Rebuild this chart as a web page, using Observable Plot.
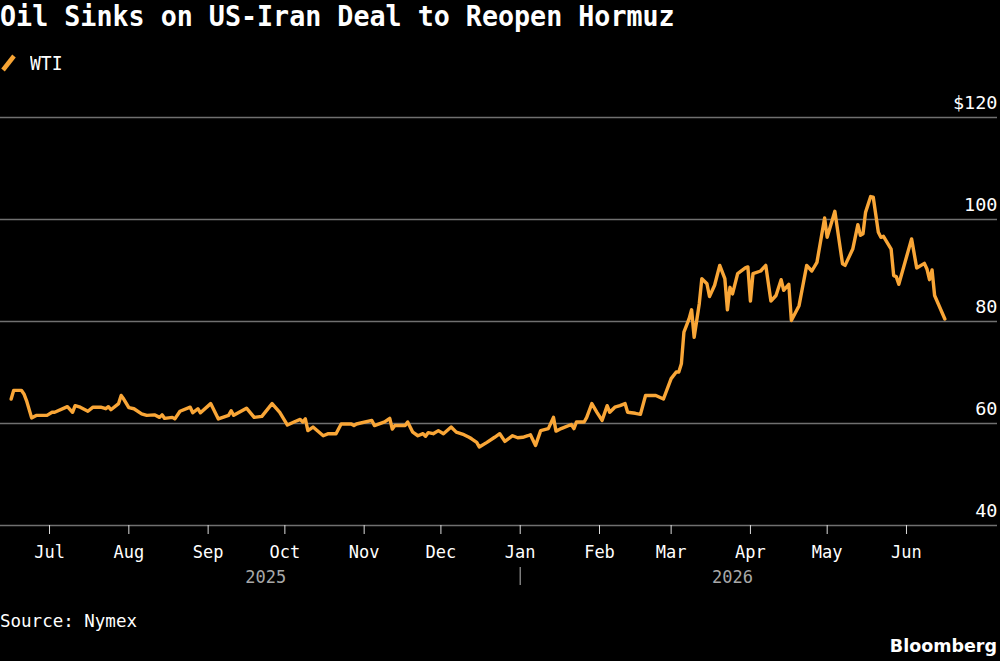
<!DOCTYPE html>
<html>
<head>
<meta charset="utf-8">
<script src="https://cdn.jsdelivr.net/npm/d3@7"></script>
<script src="https://cdn.jsdelivr.net/npm/@observablehq/plot@0.6"></script>
<style>
  html, body { margin: 0; padding: 0; background: #000; }
  #page { position: relative; width: 1000px; height: 661px; background: #000; overflow: hidden;
          font-family: "DejaVu Sans Mono", monospace; color: #fff; }
  #title { position: absolute; left: 0; top: 2px; font-size: 29px; line-height: 29px;
           font-weight: bold; white-space: nowrap; transform: scaleX(0.92); transform-origin: 0 0; }
  #legend { position: absolute; left: 0; top: 52px; height: 22px; }
  #legend svg { position: absolute; left: 0; top: 0; }
  #legend span { position: absolute; left: 30px; top: 1px; font-size: 20px; line-height: 20px; white-space: nowrap;
                 transform: scaleX(0.9); transform-origin: 0 0; }
  #chart { position: absolute; left: 0; top: 88px; }
  #source { position: absolute; left: 0; top: 613px; font-size: 17.5px; line-height: 17.5px; white-space: nowrap; }
  #brand { position: absolute; right: 3px; top: 638px; font-family: "DejaVu Sans", sans-serif;
           font-weight: bold; font-size: 17.5px; line-height: 17.5px; white-space: nowrap; }
</style>
</head>
<body>
<div id="page">
  <div id="title">Oil Sinks on US-Iran Deal to Reopen Hormuz</div>
  <div id="legend">
    <svg width="20" height="22"><line x1="3" y1="18" x2="14" y2="4" stroke="#f7a434" stroke-width="4.5"/></svg>
    <span>WTI</span>
  </div>
  <div id="chart"></div>
  <div id="source">Source: Nymex</div>
  <div id="brand">Bloomberg</div>
</div>
<script>
// WTI front-month settlement, $/bbl
const dates = [
  "2025-06-16","2025-06-17","2025-06-20","2025-06-21","2025-06-22","2025-06-24","2025-06-26","2025-06-30",
  "2025-07-02","2025-07-03","2025-07-08","2025-07-10","2025-07-11","2025-07-13","2025-07-16","2025-07-18",
  "2025-07-21","2025-07-23","2025-07-24","2025-07-25","2025-07-28","2025-07-29","2025-07-30","2025-08-01",
  "2025-08-03","2025-08-06","2025-08-08","2025-08-11","2025-08-13","2025-08-14","2025-08-15","2025-08-18",
  "2025-08-19","2025-08-21","2025-08-25","2025-08-26","2025-08-28","2025-08-29","2025-09-02","2025-09-05",
  "2025-09-09","2025-09-10","2025-09-11","2025-09-16","2025-09-19","2025-09-22","2025-09-26","2025-09-29",
  "2025-10-02","2025-10-05","2025-10-07","2025-10-08","2025-10-09","2025-10-10","2025-10-12","2025-10-16",
  "2025-10-18","2025-10-21","2025-10-23","2025-10-27","2025-10-28","2025-10-29","2025-11-04","2025-11-05",
  "2025-11-09","2025-11-11","2025-11-12","2025-11-13","2025-11-17","2025-11-18","2025-11-20","2025-11-22",
  "2025-11-24","2025-11-25","2025-11-26","2025-11-28","2025-11-30","2025-12-02","2025-12-05","2025-12-07",
  "2025-12-10","2025-12-12","2025-12-13","2025-12-15","2025-12-16","2025-12-19","2025-12-22","2025-12-24",
  "2025-12-26","2025-12-29","2025-12-31","2026-01-02","2026-01-04","2026-01-05","2026-01-07","2026-01-09",
  "2026-01-12","2026-01-14","2026-01-15","2026-01-17","2026-01-21","2026-01-22","2026-01-23","2026-01-26",
  "2026-01-27","2026-01-29","2026-01-31","2026-02-02","2026-02-04","2026-02-05","2026-02-07","2026-02-09",
  "2026-02-11","2026-02-12","2026-02-15","2026-02-17","2026-02-19","2026-02-23","2026-02-26","2026-03-01",
  "2026-03-03","2026-03-04","2026-03-05","2026-03-06","2026-03-08","2026-03-09","2026-03-10","2026-03-12",
  "2026-03-13","2026-03-15","2026-03-16","2026-03-18","2026-03-20","2026-03-22","2026-03-23","2026-03-24",
  "2026-03-25","2026-03-27","2026-03-30","2026-03-31","2026-04-01","2026-04-02","2026-04-05","2026-04-07",
  "2026-04-09","2026-04-11","2026-04-13","2026-04-14","2026-04-16","2026-04-17","2026-04-20","2026-04-23",
  "2026-04-25","2026-04-27","2026-04-30","2026-05-01","2026-05-04","2026-05-07","2026-05-08","2026-05-11",
  "2026-05-13","2026-05-14","2026-05-15","2026-05-16","2026-05-18","2026-05-19","2026-05-21","2026-05-22",
  "2026-05-23","2026-05-26","2026-05-27","2026-05-28","2026-05-29","2026-06-03","2026-06-05","2026-06-08",
  "2026-06-09","2026-06-10","2026-06-11","2026-06-12","2026-06-16"
];
const wti = [
  64.8,66.5,66.5,65.8,64.5,61.1,61.6,61.6,
  62.2,62.2,63.3,62.2,63.5,63.2,62.4,63.2,
  63.2,62.9,63.3,62.7,63.9,65.5,64.8,63.1,
  62.9,61.9,61.6,61.7,61.2,61.7,61.0,61.2,
  60.9,62.4,63.2,62.1,62.9,62.1,63.9,60.9,
  61.6,62.5,61.6,63.0,61.2,61.4,63.9,62.2,
  59.7,60.4,60.8,60.3,60.9,58.6,59.3,57.6,
  58.0,58.0,59.9,59.9,59.6,59.9,60.6,59.6,
  60.3,61.0,58.9,59.6,59.6,60.3,58.3,57.6,
  58.0,57.5,58.2,58.0,58.6,58.0,59.3,58.3,
  57.8,57.3,57.0,56.3,55.4,56.3,57.3,58.0,
  56.5,57.6,57.2,57.3,57.6,57.8,55.7,58.6,
  59.0,61.2,58.5,59.0,59.8,59.0,60.3,60.3,
  61.2,63.9,62.2,60.6,63.5,62.2,63.2,63.5,
  63.9,62.2,62.0,61.8,65.5,65.5,64.8,68.8,
  70.1,70.1,71.7,77.9,80.5,82.3,76.9,83.5,
  88.4,87.4,84.9,87.1,91.0,88.4,82.3,86.7,
  85.4,89.4,90.5,90.7,84.0,89.4,89.9,91.0,
  84.0,85.1,88.2,86.1,87.3,80.2,83.1,91.0,
  89.9,91.6,100.3,96.5,101.6,91.3,91.0,94.2,
  99.0,96.9,97.2,101.4,104.5,104.4,97.5,96.5,
  96.7,94.2,89.0,88.8,87.3,96.2,90.5,91.4,
  90.3,88.2,90.1,85.1,80.5
];

const yTicks = [40, 60, 80, 100, 120];
const monthTicks = [
  "2025-07-01","2025-08-01","2025-09-01","2025-10-01","2025-11-01","2025-12-01",
  "2026-01-01","2026-02-01","2026-03-01","2026-04-01","2026-05-01","2026-06-01"
].map(d => new Date(d));
const yearLabels = ["2025", "2026"];
const yearBreak = new Date("2026-01-01");

const series = dates.map((d, i) => ({date: new Date(d), value: wti[i]}));
const first = series[0].date, last = series[series.length - 1].date;
// each year label sits in the middle of the span of data it covers
const years = [
  {label: yearLabels[0], mid: new Date((+first + +yearBreak) / 2)},
  {label: yearLabels[1], mid: new Date((+yearBreak + +last) / 2)}
];

const chart = Plot.plot({
  width: 1000,
  height: 507,
  marginTop: 29,
  marginBottom: 70,
  marginLeft: 0,
  marginRight: 3,
  style: {background: "transparent", color: "#fff", fontFamily: "DejaVu Sans Mono, monospace", fontSize: "17px", overflow: "visible"},
  x: {type: "utc", domain: [new Date("2025-06-11T20:00Z"), new Date("2026-07-06T14:00Z")], label: null},
  y: {domain: [40, 120], label: null},
  marks: [
    Plot.ruleY(yTicks, {stroke: "#707070", strokeWidth: 1.5}),
    Plot.axisY(yTicks, {
      anchor: "right", tickSize: 0, tickPadding: 0, textAnchor: "end", lineAnchor: "bottom", dy: -9,
      tickFormat: d => d === 120 ? "$120" : String(d), fontSize: 18.5, fill: "#fff"
    }),
    Plot.axisX(monthTicks, {
      anchor: "bottom", tickSize: 9, tickPadding: 11, tickFormat: d3.utcFormat("%b"),
      stroke: "#ddd", fill: "#fff", fontSize: 17
    }),
    Plot.ruleX([yearBreak], {insetTop: 450, insetBottom: -60, stroke: "#9a9a9a", strokeWidth: 1.2}),
    Plot.text(years, {x: "mid", text: "label", frameAnchor: "bottom", lineAnchor: "bottom", dy: 57, fill: "#a8a8a8", fontSize: 17}),
    Plot.lineY(series, {x: "date", y: "value", stroke: "#f9a637", strokeWidth: 3.4, strokeLinejoin: "round", strokeLinecap: "round"})
  ]
});
document.getElementById("chart").append(chart);
</script>
</body>
</html>
